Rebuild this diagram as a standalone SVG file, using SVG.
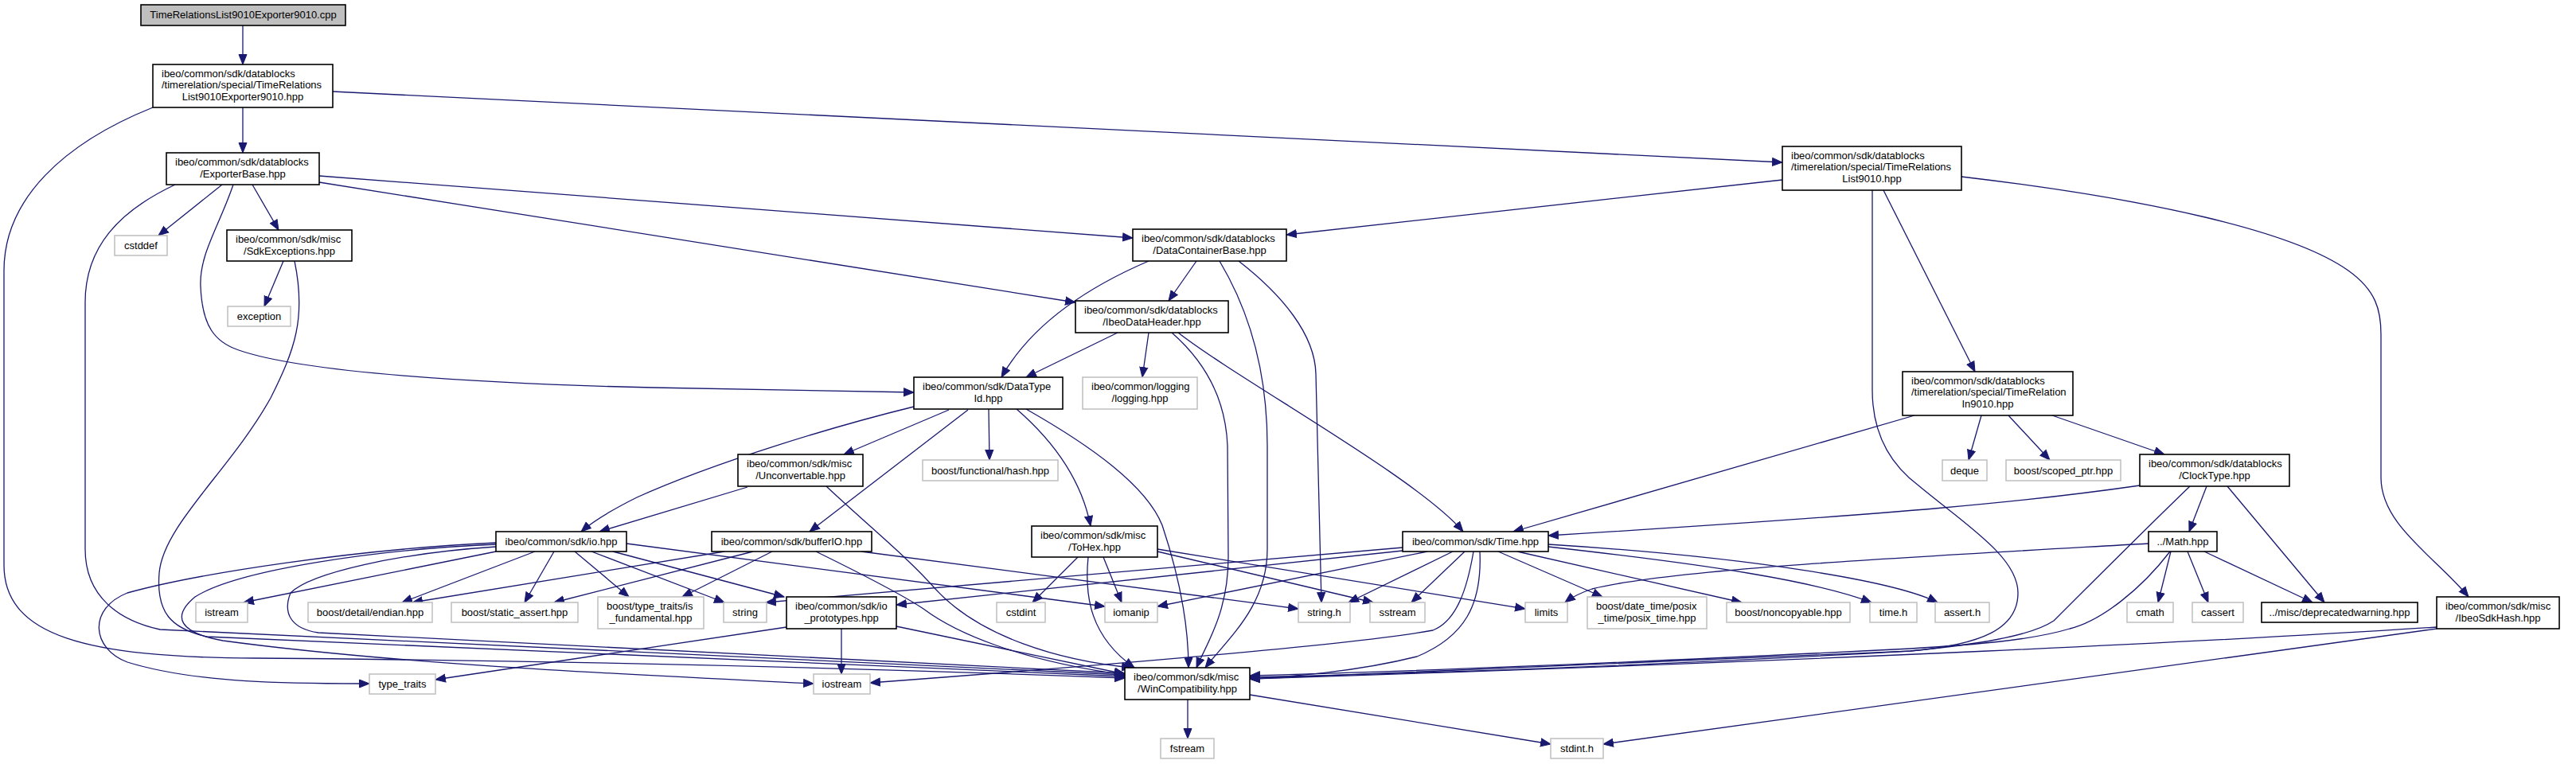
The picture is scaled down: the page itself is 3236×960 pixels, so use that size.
<svg xmlns="http://www.w3.org/2000/svg" width="3236" height="960" viewBox="0 0 3236 960">
<style>
.n{fill:#ffffff;stroke:#000000;stroke-width:1.6}
.g{fill:#ffffff;stroke:#bfbfbf;stroke-width:1.5}
.r{fill:#bfbfbf;stroke:#000000;stroke-width:1.6}
text{font-family:"Liberation Sans",Arial,Helvetica,sans-serif;font-size:13px;fill:#000000}
.m{text-anchor:middle}
.s{text-anchor:start}
.e{fill:none;stroke:#191970;stroke-width:1.3;marker-end:url(#arr)}
</style>
<defs>
<marker id="arr" markerUnits="userSpaceOnUse" markerWidth="14" markerHeight="12" refX="13" refY="6" orient="auto">
<path d="M0.5,1 L13,6 L0.5,11 z" fill="#191970" stroke="#191970" stroke-width="1"/>
</marker>
</defs>
<rect width="3236" height="960" fill="#ffffff"/>
<g id="edges">
<path class="e" d="M305,32 L305,81"/>
<path class="e" d="M305,135 L305,192"/>
<path class="e" d="M418,115 L2239,204"/>
<path class="e" d="M192,135 C80,180 5,250 5,340 L5,710 C5,800 110,826 320,827 C700,830 1100,840 1413,852"/>
<path class="e" d="M279,232 L199,296"/>
<path class="e" d="M317,232 L350,289"/>
<path class="e" d="M401,221 L1423,299"/>
<path class="e" d="M401,229 L1351,380"/>
<path class="e" d="M293,232 C275,285 250,320 252,360 C254,410 270,430 300,440 C380,468 600,482 820,487 L1148,493"/>
<path class="e" d="M220,232 C150,265 107,310 107,380 L107,690 C107,750 150,780 201,791 L1413,848"/>
<path class="e" d="M356,328 L332,385"/>
<path class="e" d="M370,328 C385,400 370,440 340,500 C290,590 205,660 200,720 C196,770 215,790 260,800 L1413,850"/>
<path class="e" d="M623,682 C450,690 250,720 160,745 C110,765 115,815 160,832 C250,860 380,859 464,859"/>
<path class="e" d="M623,684 C480,690 300,715 245,750 C215,775 225,795 280,805 C500,835 800,848 1022,859"/>
<path class="e" d="M623,687 C500,695 390,720 365,745 C355,770 365,790 400,795 L1413,846"/>
<path class="e" d="M623,693 L306,757"/>
<path class="e" d="M672,693 L505,757"/>
<path class="e" d="M696,693 L659,757"/>
<path class="e" d="M722,693 L790,750"/>
<path class="e" d="M743,693 L910,757"/>
<path class="e" d="M770,693 L985,750"/>
<path class="e" d="M787,683 L1388,762"/>
<path class="e" d="M910,693 L518,757"/>
<path class="e" d="M946,693 L696,757"/>
<path class="e" d="M970,693 L857,750"/>
<path class="e" d="M1082,693 L1631,765"/>
<path class="e" d="M1025,693 C1080,720 1130,745 1160,765 C1200,795 1280,830 1413,848"/>
<path class="e" d="M939,612 L753,668"/>
<path class="e" d="M1038,611 C1090,660 1140,700 1175,740 C1230,800 1330,830 1422,839"/>
<path class="e" d="M1148,511 C1050,535 900,580 800,625 C770,640 745,655 730,668"/>
<path class="e" d="M1192,515 L1060,571"/>
<path class="e" d="M1216,515 L1017,668"/>
<path class="e" d="M1242,514 L1243,578"/>
<path class="e" d="M1277,514 C1330,560 1360,610 1370,661"/>
<path class="e" d="M1289,514 C1370,560 1440,610 1460,660 C1480,720 1493,780 1493,839"/>
<path class="e" d="M1443,328 C1380,355 1300,400 1258,474"/>
<path class="e" d="M1503,328 L1468,378"/>
<path class="e" d="M1532,328 C1575,400 1592,480 1592,560 L1592,690 C1592,760 1545,800 1514,839"/>
<path class="e" d="M1556,328 C1610,370 1652,420 1653,470 L1660,757"/>
<path class="e" d="M1404,418 L1289,474"/>
<path class="e" d="M1443,418 L1435,474"/>
<path class="e" d="M1472,418 C1520,460 1540,510 1542,560 L1543,700 C1543,770 1515,810 1503,839"/>
<path class="e" d="M1480,418 C1560,480 1780,600 1838,668"/>
<path class="e" d="M2239,226 L1616,295"/>
<path class="e" d="M2366,239 L2481,467"/>
<path class="e" d="M2352,239 L2352,490 C2352,540 2370,580 2410,610 C2470,660 2535,700 2535,745 C2535,790 2490,810 2400,818 C2100,830 1800,845 1570,853"/>
<path class="e" d="M2464,222 C2700,250 2880,290 2950,340 C2985,365 2991,390 2991,420 L2991,600 C2991,660 3060,700 3101,750"/>
<path class="e" d="M2489,522 L2473,578"/>
<path class="e" d="M2523,522 L2575,578"/>
<path class="e" d="M2578,522 L2719,571"/>
<path class="e" d="M2405,522 L1901,668"/>
<path class="e" d="M2688,610 C2550,630 2400,645 1945,673"/>
<path class="e" d="M2772,611 L2750,668"/>
<path class="e" d="M2798,611 L2920,757"/>
<path class="e" d="M2751,611 C2700,660 2620,740 2580,780 C2550,800 2480,810 2400,818 C2100,835 1800,846 1570,851"/>
<path class="e" d="M2727,693 L2711,757"/>
<path class="e" d="M2748,693 L2774,757"/>
<path class="e" d="M2769,693 L2905,757"/>
<path class="e" d="M2699,683 C2400,700 2100,715 2000,740 C1985,745 1975,750 1966,757"/>
<path class="e" d="M2726,693 C2690,740 2640,780 2600,790 C2550,805 2480,810 2400,815 C2100,830 1800,843 1570,849"/>
<path class="e" d="M1825,693 L1694,757"/>
<path class="e" d="M1840,693 L1773,757"/>
<path class="e" d="M1882,693 L2013,750"/>
<path class="e" d="M1906,693 L2188,757"/>
<path class="e" d="M1945,687 C2150,710 2280,730 2351,757"/>
<path class="e" d="M1945,684 C2200,700 2380,730 2434,757"/>
<path class="e" d="M1851,693 C1843,740 1830,780 1800,792 C1700,810 1400,835 1093,858"/>
<path class="e" d="M1859,693 C1862,760 1840,800 1780,825 C1700,845 1620,850 1570,853"/>
<path class="e" d="M1762,688 L962,757"/>
<path class="e" d="M1762,692 L1126,760"/>
<path class="e" d="M1793,693 L1454,762"/>
<path class="e" d="M1354,700 L1297,757"/>
<path class="e" d="M1386,700 L1409,757"/>
<path class="e" d="M1367,700 C1362,750 1370,800 1425,839"/>
<path class="e" d="M1454,693 L1725,757"/>
<path class="e" d="M1454,690 L1916,765"/>
<path class="e" d="M1057,790 L1057,847"/>
<path class="e" d="M988,788 L547,854"/>
<path class="e" d="M1126,787 L1413,847"/>
<path class="e" d="M1492,879 L1492,928"/>
<path class="e" d="M1570,873 L1948,935"/>
<path class="e" d="M3061,788 C2800,805 2300,830 1570,853"/>
<path class="e" d="M3061,790 L2014,935"/>
</g>
<g id="n0"><rect class="r" x="177" y="6" width="257" height="26"/><text class="m" x="305.5" y="23">TimeRelationsList9010Exporter9010.cpp</text></g>
<g id="n1"><rect class="n" x="192" y="81" width="226" height="54"/><text class="s" x="203" y="97">ibeo/common/sdk/datablocks</text><text class="s" x="203" y="111">/timerelation/special/TimeRelations</text><text class="m" x="305" y="126">List9010Exporter9010.hpp</text></g>
<g id="n2"><rect class="n" x="209" y="192" width="192" height="40"/><text class="s" x="220" y="208">ibeo/common/sdk/datablocks</text><text class="m" x="305" y="223">/ExporterBase.hpp</text></g>
<g id="n3"><rect class="n" x="2239" y="184" width="225" height="55"/><text class="s" x="2250" y="200">ibeo/common/sdk/datablocks</text><text class="s" x="2250" y="214">/timerelation/special/TimeRelations</text><text class="m" x="2351.5" y="229">List9010.hpp</text></g>
<g id="cstddef"><rect class="g" x="144" y="296" width="66" height="25"/><text class="m" x="177" y="313">cstddef</text></g>
<g id="sdkexceptions"><rect class="n" x="285" y="289" width="157" height="39"/><text class="s" x="296" y="305">ibeo/common/sdk/misc</text><text class="m" x="363.5" y="320">/SdkExceptions.hpp</text></g>
<g id="exception"><rect class="g" x="286" y="385" width="79" height="25"/><text class="m" x="325.5" y="402">exception</text></g>
<g id="datacontainerbase"><rect class="n" x="1423" y="288" width="193" height="40"/><text class="s" x="1434" y="304">ibeo/common/sdk/datablocks</text><text class="m" x="1519.5" y="319">/DataContainerBase.hpp</text></g>
<g id="ibeodataheader"><rect class="n" x="1351" y="378" width="192" height="40"/><text class="s" x="1362" y="394">ibeo/common/sdk/datablocks</text><text class="m" x="1447" y="409">/IbeoDataHeader.hpp</text></g>
<g id="datatypeid"><rect class="n" x="1148" y="474" width="187" height="40"/><text class="s" x="1159" y="490">ibeo/common/sdk/DataType</text><text class="m" x="1241.5" y="505">Id.hpp</text></g>
<g id="logging"><rect class="g" x="1360" y="474" width="144" height="40"/><text class="s" x="1371" y="490">ibeo/common/logging</text><text class="m" x="1432" y="505">/logging.hpp</text></g>
<g id="unconvertable"><rect class="n" x="927" y="571" width="157" height="40"/><text class="s" x="938" y="587">ibeo/common/sdk/misc</text><text class="m" x="1005.5" y="602">/Unconvertable.hpp</text></g>
<g id="hash"><rect class="g" x="1159" y="578" width="170" height="26"/><text class="m" x="1244" y="596">boost/functional/hash.hpp</text></g>
<g id="timerelationin"><rect class="n" x="2390" y="467" width="214" height="55"/><text class="s" x="2401" y="483">ibeo/common/sdk/datablocks</text><text class="s" x="2401" y="497">/timerelation/special/TimeRelation</text><text class="m" x="2497" y="512">In9010.hpp</text></g>
<g id="deque"><rect class="g" x="2440" y="578" width="56" height="26"/><text class="m" x="2468" y="596">deque</text></g>
<g id="scopedptr"><rect class="g" x="2520" y="578" width="144" height="26"/><text class="m" x="2592" y="596">boost/scoped_ptr.hpp</text></g>
<g id="clocktype"><rect class="n" x="2688" y="571" width="188" height="40"/><text class="s" x="2699" y="587">ibeo/common/sdk/datablocks</text><text class="m" x="2782" y="602">/ClockType.hpp</text></g>
<g id="io"><rect class="n" x="623" y="668" width="164" height="25"/><text class="m" x="705" y="685">ibeo/common/sdk/io.hpp</text></g>
<g id="bufferio"><rect class="n" x="894" y="668" width="201" height="25"/><text class="m" x="994.5" y="685">ibeo/common/sdk/bufferIO.hpp</text></g>
<g id="tohex"><rect class="n" x="1296" y="661" width="158" height="39"/><text class="s" x="1307" y="677">ibeo/common/sdk/misc</text><text class="m" x="1375" y="692">/ToHex.hpp</text></g>
<g id="time"><rect class="n" x="1762" y="668" width="183" height="25"/><text class="m" x="1853.5" y="685">ibeo/common/sdk/Time.hpp</text></g>
<g id="math"><rect class="n" x="2699" y="668" width="86" height="25"/><text class="m" x="2742" y="685">../Math.hpp</text></g>
<g id="istream"><rect class="g" x="246" y="757" width="65" height="25"/><text class="m" x="278.5" y="774">istream</text></g>
<g id="endian"><rect class="g" x="387" y="757" width="156" height="25"/><text class="m" x="465" y="774">boost/detail/endian.hpp</text></g>
<g id="staticassert"><rect class="g" x="567" y="757" width="159" height="25"/><text class="m" x="646.5" y="774">boost/static_assert.hpp</text></g>
<g id="isfundamental"><rect class="g" x="751" y="750" width="133" height="40"/><text class="s" x="762" y="766">boost/type_traits/is</text><text class="m" x="817.5" y="781">_fundamental.hpp</text></g>
<g id="string"><rect class="g" x="909" y="757" width="54" height="25"/><text class="m" x="936" y="774">string</text></g>
<g id="ioprototypes"><rect class="n" x="988" y="750" width="138" height="40"/><text class="s" x="999" y="766">ibeo/common/sdk/io</text><text class="m" x="1057" y="781">_prototypes.hpp</text></g>
<g id="cstdint"><rect class="g" x="1252" y="757" width="61" height="25"/><text class="m" x="1282.5" y="774">cstdint</text></g>
<g id="iomanip"><rect class="g" x="1388" y="757" width="66" height="25"/><text class="m" x="1421" y="774">iomanip</text></g>
<g id="stringh"><rect class="g" x="1631" y="757" width="65" height="25"/><text class="m" x="1663.5" y="774">string.h</text></g>
<g id="sstream"><rect class="g" x="1721" y="757" width="69" height="25"/><text class="m" x="1755.5" y="774">sstream</text></g>
<g id="limits"><rect class="g" x="1916" y="757" width="53" height="25"/><text class="m" x="1942.5" y="774">limits</text></g>
<g id="posixtime"><rect class="g" x="1994" y="750" width="150" height="40"/><text class="s" x="2005" y="766">boost/date_time/posix</text><text class="m" x="2069" y="781">_time/posix_time.hpp</text></g>
<g id="noncopyable"><rect class="g" x="2169" y="757" width="155" height="25"/><text class="m" x="2246.5" y="774">boost/noncopyable.hpp</text></g>
<g id="timeh"><rect class="g" x="2349" y="757" width="59" height="25"/><text class="m" x="2378.5" y="774">time.h</text></g>
<g id="asserth"><rect class="g" x="2431" y="757" width="68" height="25"/><text class="m" x="2465" y="774">assert.h</text></g>
<g id="cmath"><rect class="g" x="2672" y="757" width="58" height="25"/><text class="m" x="2701" y="774">cmath</text></g>
<g id="cassert"><rect class="g" x="2754" y="757" width="64" height="25"/><text class="m" x="2786" y="774">cassert</text></g>
<g id="deprecatedwarning"><rect class="n" x="2841" y="757" width="196" height="25"/><text class="m" x="2939" y="774">../misc/deprecatedwarning.hpp</text></g>
<g id="ibeosdkhash"><rect class="n" x="3061" y="750" width="154" height="40"/><text class="s" x="3072" y="766">ibeo/common/sdk/misc</text><text class="m" x="3138" y="781">/IbeoSdkHash.hpp</text></g>
<g id="typetraits"><rect class="g" x="464" y="847" width="83" height="25"/><text class="m" x="505.5" y="864">type_traits</text></g>
<g id="iostream"><rect class="g" x="1022" y="847" width="71" height="25"/><text class="m" x="1057.5" y="864">iostream</text></g>
<g id="wincompatibility"><rect class="n" x="1413" y="839" width="157" height="40"/><text class="s" x="1424" y="855">ibeo/common/sdk/misc</text><text class="m" x="1491.5" y="870">/WinCompatibility.hpp</text></g>
<g id="fstream"><rect class="g" x="1458" y="928" width="67" height="25"/><text class="m" x="1491.5" y="945">fstream</text></g>
<g id="stdinth"><rect class="g" x="1948" y="928" width="66" height="25"/><text class="m" x="1981" y="945">stdint.h</text></g>
</svg>
